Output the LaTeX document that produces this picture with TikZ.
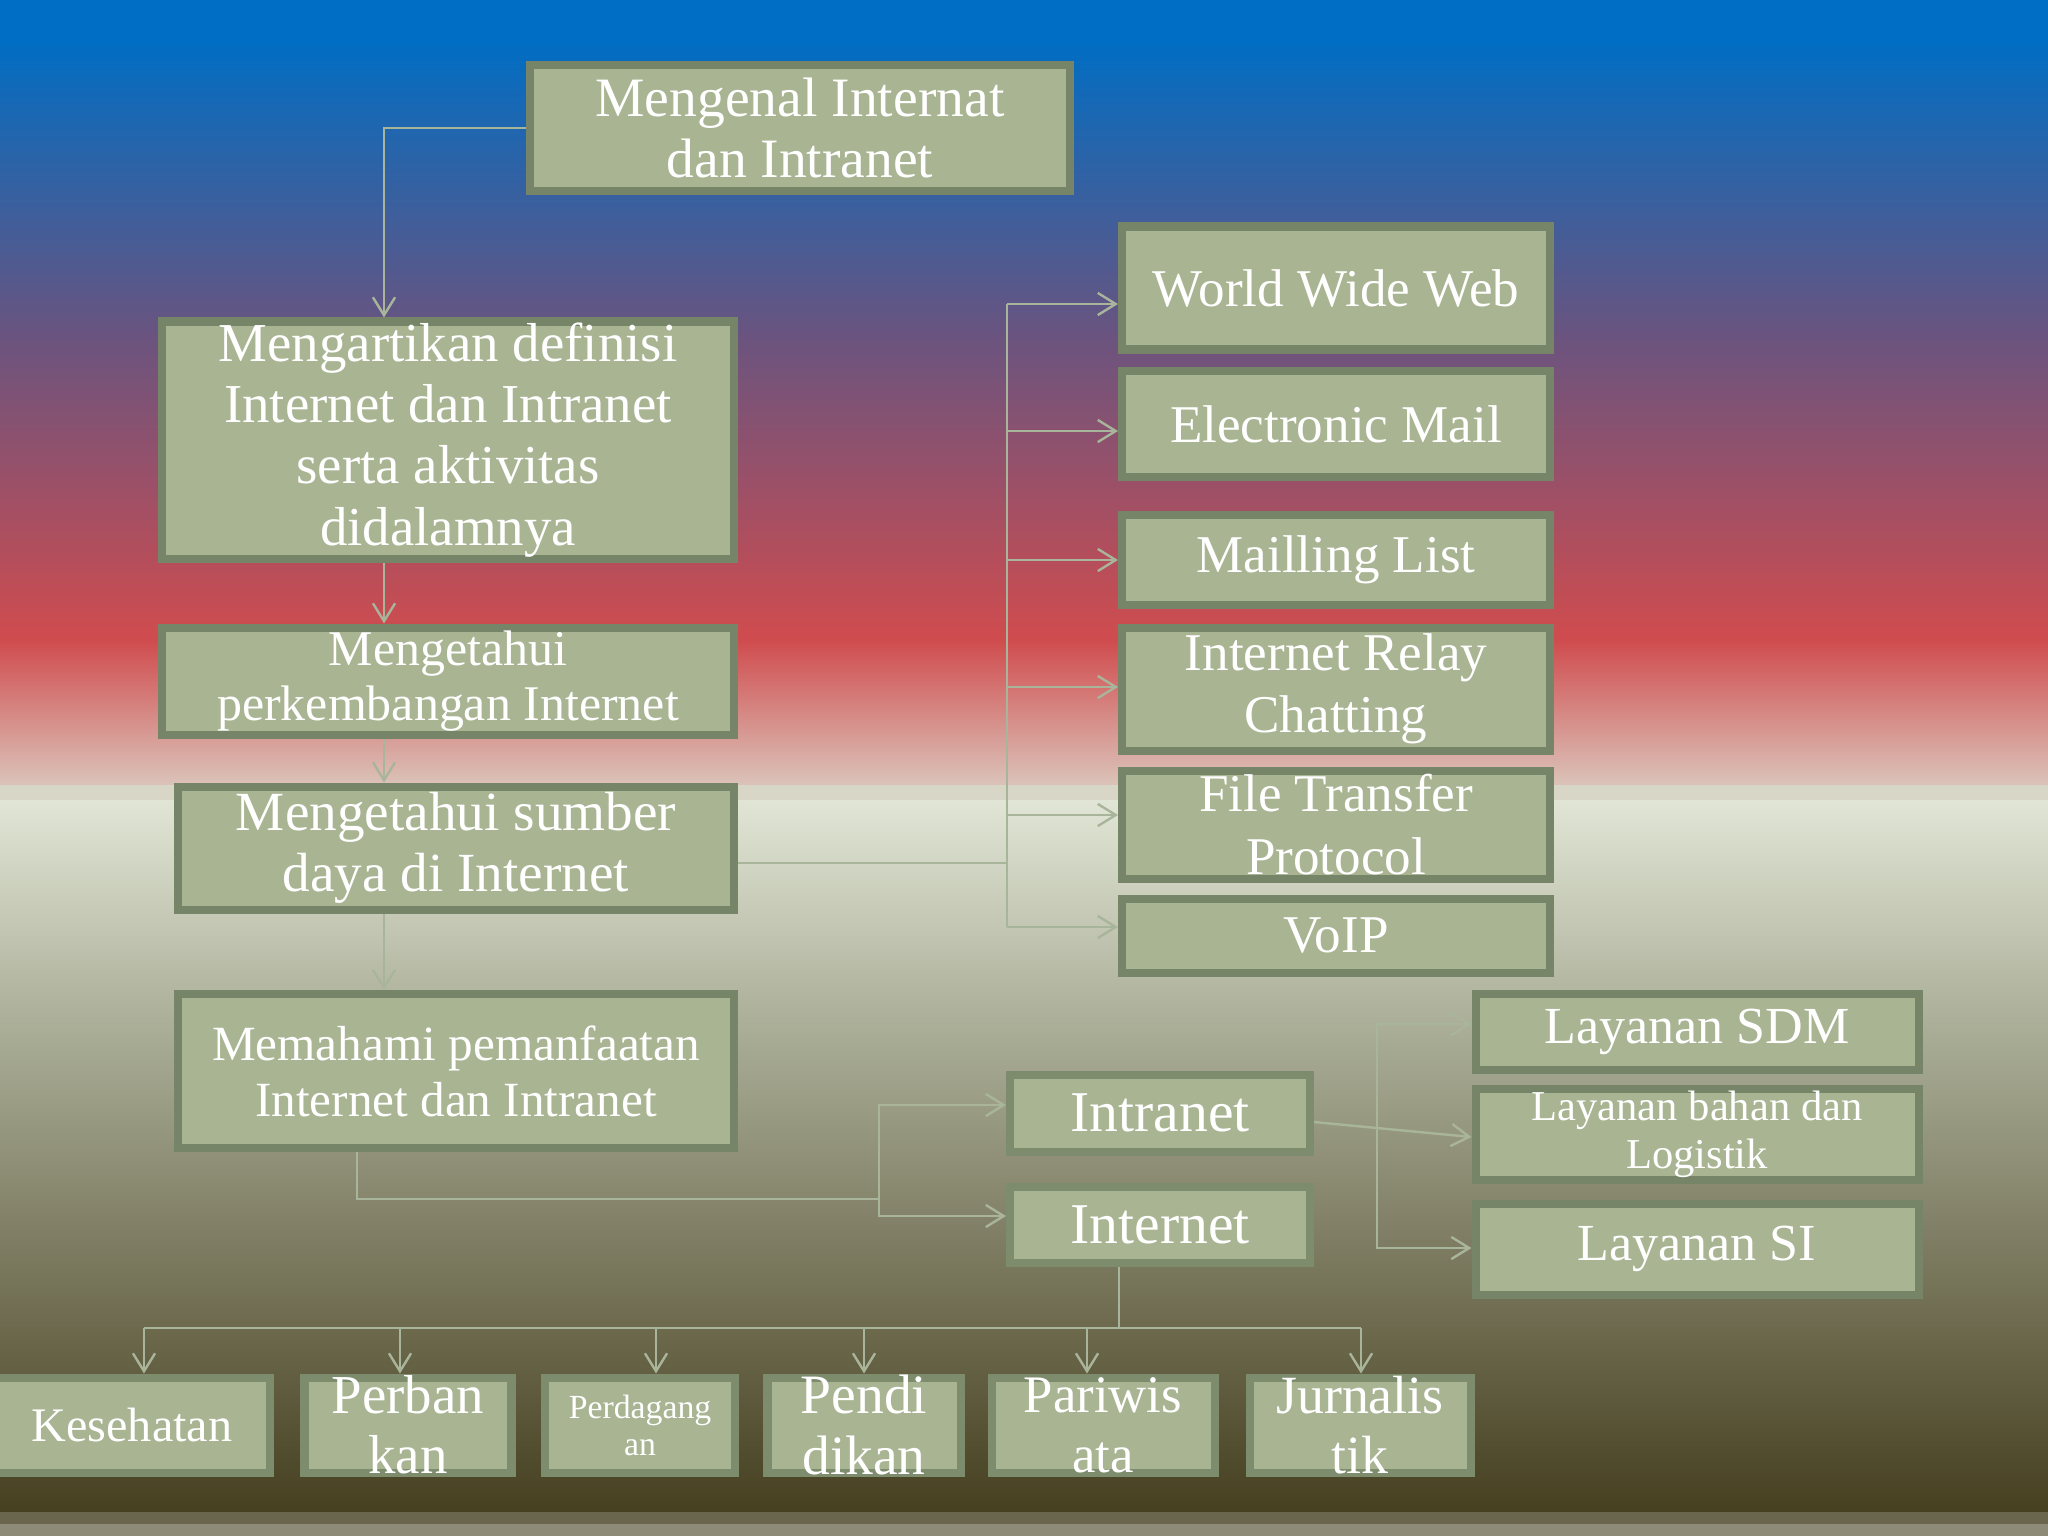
\documentclass[tikz,border=0pt]{standalone}
\usepackage{fontspec}
\setmainfont{Liberation Serif}
\usetikzlibrary{arrows.meta}
\newdimen\pxu \pxu=0.01cm
\definecolor{boxfill}{RGB}{168,180,146}
\definecolor{boxline}{RGB}{118,133,104}
\definecolor{boxlinesoft}{RGB}{124,140,108}
\definecolor{conn}{RGB}{169,181,155}
\definecolor{bgA}{RGB}{0,110,196}
\definecolor{bgB}{RGB}{104,84,128}
\definecolor{bgC}{RGB}{208,76,78}
\definecolor{bgD}{RGB}{219,196,186}
\definecolor{bgE}{RGB}{216,214,198}
\definecolor{bgF}{RGB}{225,229,213}
\definecolor{bgG}{RGB}{176,180,158}
\definecolor{bgH}{RGB}{70,63,32}
\definecolor{bgI}{RGB}{106,102,78}
\definecolor{bgJ}{RGB}{142,138,120}
\newcommand{\fs}[2]{\fontsize{#1pt}{#2pt}\selectfont}
\tikzset{
  box/.style={draw=boxline, fill=boxfill, line width=2.28pt, inner sep=0pt, rectangle},
  softbox/.style={box, draw=boxlinesoft},
  txt/.style={text=white, align=center, inner sep=0pt},
  line/.style={draw=conn, line width=0.68pt},
  arr/.style={line, -{Straight Barb[length=5.1pt, width=6.3pt]}}
}
% style, name, cx, cy, inner w, inner h, font, text
\newcommand{\bx}[8][box]{%
  \node[#1, minimum width=#5\pxu, minimum height=#6\pxu] (#2) at (#3,#4) {};
  \node[txt, font=#7] (#2t) at (#2) {#8};}
\begin{document}
\begin{tikzpicture}[x=0.01cm, y=-0.01cm]
\useasboundingbox (0,0) rectangle (2048,1536);
\clip (0,0) rectangle (2048,1536);
% background
\fill[bgA] (0,0) rectangle (2048,41);
\shade[top color=bgA, bottom color=bgB] (0,40) rectangle (2048,331);
\shade[top color=bgB, bottom color=bgC] (0,330) rectangle (2048,641);
\shade[top color=bgC, bottom color=bgD] (0,640) rectangle (2048,786);
\fill[bgE] (0,785) rectangle (2048,801);
\shade[top color=bgF, bottom color=bgG] (0,800) rectangle (2048,1001);
\shade[top color=bgG, bottom color=bgH] (0,1000) rectangle (2048,1513);
\fill[bgI] (0,1512) rectangle (2048,1525);
\fill[bgJ] (0,1524) rectangle (2048,1536);

% left column
\bx{b1}{800}{128}{540}{126}{\fs{15.8}{17.4}}{Mengenal Internat\\dan Intranet}
\bx{b2}{448}{440}{572}{237}{\fs{15.6}{17.4}}{Mengartikan definisi\\Internet dan Intranet\\serta aktivitas\\didalamnya}
\bx{b3}{448}{681}{572}{107}{\fs{14.2}{15.6}}{Mengetahui\\perkembangan Internet}
\bx{b4}{456}{848}{556}{123}{\fs{15.7}{17.4}}{Mengetahui sumber\\daya di Internet}
\bx{b5}{456}{1071}{556}{154}{\fs{14}{15.9}}{Memahami pemanfaatan\\Internet dan Intranet}

% right column
\bx{www}{1336}{288}{428}{123}{\fs{15.1}{17.6}}{World Wide Web}
\bx{mail}{1336}{424}{428}{106}{\fs{15.1}{17.6}}{Electronic Mail}
\bx{list}{1336}{560}{428}{90}{\fs{15.1}{17.6}}{Mailling List}
\bx{irc}{1336}{689}{428}{123}{\fs{15.1}{17.6}}{Internet Relay\\Chatting}
\bx{ftp}{1336}{825}{428}{108}{\fs{15.1}{17.9}}{File Transfer\\Protocol}
\bx{voip}{1336}{936}{428}{74}{\fs{15.1}{17.6}}{VoIP}

% intranet / internet
\bx[softbox]{intra}{1160}{1113}{300}{77}{\fs{16.4}{18}}{Intranet}
\bx[softbox]{inter}{1160}{1225}{300}{76}{\fs{16.4}{18}}{Internet}

% layanan
\bx{sdm}{1697}{1032}{443}{76}{\fs{14.8}{17}}{Layanan SDM}
\bx{bahan}{1697}{1134}{443}{91}{\fs{12.1}{13.7}}{Layanan bahan dan\\Logistik}
\bx{si}{1697}{1249}{443}{91}{\fs{14.8}{17}}{Layanan SI}

% bottom row
\bx[softbox]{kes}{132}{1425}{276}{95}{\fs{13.7}{16}}{Kesehatan}
\bx[softbox]{perb}{408}{1425}{207}{95}{\fs{15.6}{17.1}}{Perban\\kan}
\bx[softbox]{perd}{640}{1425}{190}{95}{\fs{9.6}{10.5}}{Perdagang\\an}
\bx[softbox]{pend}{864}{1425}{193}{95}{\fs{15.8}{17.1}}{Pendi\\dikan}
\bx[softbox]{pari}{1103}{1425}{223}{95}{\fs{15}{17.1}}{Pariwis\\ata}
\bx[softbox]{jurn}{1360}{1425}{221}{95}{\fs{15.3}{17.1}}{Jurnalis\\tik}

% connectors: left spine
\coordinate (spine) at (384,0);
\draw[arr] (b1.west) -| (b2.north -| spine);
\draw[arr] (b2.south -| spine) -- (b3.north -| spine);
\draw[arr] (b3.south -| spine) -- (b4.north -| spine);
\draw[arr] (b4.south -| spine) -- (b5.north -| spine);

% resources trunk
\coordinate (trunk) at (1007,0);
\coordinate (b4out) at ([yshift=-15\pxu]b4.east);
\coordinate (wwwin) at ([yshift=-16\pxu]www.west);
\coordinate (mailin) at ([yshift=-7\pxu]mail.west);
\coordinate (listin) at (list.west);
\coordinate (ircin) at ([yshift=2\pxu]irc.west);
\coordinate (ftpin) at ([yshift=10\pxu]ftp.west);
\coordinate (voipin) at ([yshift=9\pxu]voip.west);
\draw[line] (b4out) -- (b4out -| trunk);
\draw[line] (wwwin -| trunk) -- (voipin -| trunk);
\foreach \t in {wwwin,mailin,listin,ircin,ftpin,voipin}
  \draw[arr] (\t -| trunk) -- (\t);

% pemanfaatan -> intranet/internet
\coordinate (b5out) at ([xshift=-99\pxu]b5.south);
\coordinate (j2) at (879,1199);
\coordinate (intrain) at ([yshift=8\pxu]intra.west);
\coordinate (interin) at ([yshift=9\pxu]inter.west);
\draw[line] (b5out) |- (j2);
\draw[arr] (j2) |- (intrain);
\draw[arr] (j2) |- (interin);

% intranet -> layanan
\draw[arr] ([yshift=-9\pxu]intra.east) -- ([yshift=-3\pxu]bahan.west);
\coordinate (brk) at (1377,1135);
\draw[arr] (brk) |- ([yshift=8\pxu]sdm.west);
\draw[arr] (brk) |- ([yshift=1\pxu]si.west);

% internet -> sectors
\coordinate (bus) at (0,1328);
\coordinate (ib) at ([xshift=-41\pxu]inter.south);
\coordinate (akes) at ([xshift=12\pxu]kes.north);
\coordinate (aperb) at ([xshift=-8\pxu]perb.north);
\coordinate (aperd) at ([xshift=16\pxu]perd.north);
\coordinate (apend) at (pend.north);
\coordinate (apari) at ([xshift=-16\pxu]pari.north);
\coordinate (ajurn) at ([xshift=1\pxu]jurn.north);
\draw[line] (ib) -- (ib |- bus);
\draw[line] (akes |- bus) -- (ajurn |- bus);
\foreach \t in {akes,aperb,aperd,apend,apari,ajurn}
  \draw[arr] (\t |- bus) -- (\t);
\end{tikzpicture}
\end{document}
